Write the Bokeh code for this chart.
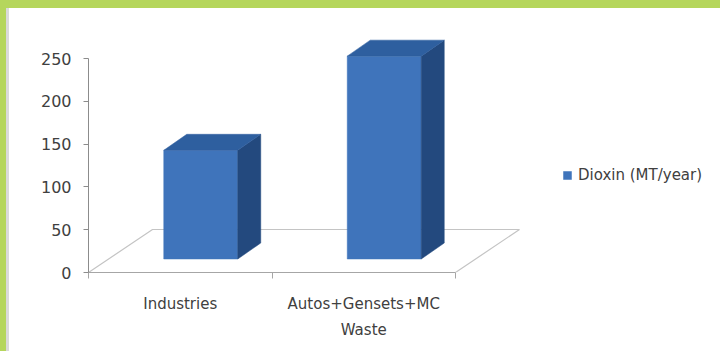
from bokeh.plotting import figure
from bokeh.models import Range1d, LinearAxis, FixedTicker, Legend, LegendItem, Div
from bokeh.layouts import column, row
from bokeh.embed import file_html
from bokeh.resources import INLINE

# ---- data ----
categories = ["Industries", "Autos+Gensets+MC\nWaste"]
values = [127, 237]
series_name = "Dioxin (MT/year)"
y_ticks = [0, 50, 100, 150, 200, 250]

# ---- layout constants (pixels) ----
W, H = 720, 351
BAND_TOP, BAND_LEFT, SHADE = 8, 6, 3
OX, OY = BAND_LEFT + SHADE, BAND_TOP        # figure origin in page
PW, PH = W - OX, H - OY
FL, FB, FT, FR = 88 - OX, 272 - OY, 28 - OY, 712 - OX   # frame edges in figure px
PX_X = 183.5      # pixels per category unit
PX_Y = 0.856      # pixels per value unit

# 3D styling (converted to data units)
FLOOR_DX = 64 / PX_X
FLOOR_DY = 43 / PX_Y
BAR_W = 74 / PX_X
BAR_DX = 23 / PX_X
BAR_DY = 16 / PX_Y

FRONT = "#3f74bb"
SIDE = "#23497e"
TOP = "#2e5f9f"
GREEN = "#b5d65c"
FONT = "DejaVu Sans"
TXT = "#404040"

p = figure(width=PW, height=PH, output_backend="svg", toolbar_location=None,
           x_range=Range1d(0, (FR - FL) / PX_X), y_range=Range1d(0, (FB - FT) / PX_Y),
           min_border_left=FL, min_border_right=PW - FR, min_border_top=FT,
           min_border_bottom=PH - FB, x_axis_type=None, y_axis_type=None)
p.grid.visible = False
p.outline_line_color = None
p.background_fill_color = "white"
p.border_fill_color = "white"

# floor (back part; front edge is the category axis)
ncat = len(categories)
p.line([0, FLOOR_DX, ncat + FLOOR_DX, ncat], [0, FLOOR_DY, FLOOR_DY, 0],
       line_color="#c4c4c4", line_width=1.2)

# bars
fx, fy, sx, sy, tx, ty = [], [], [], [], [], []
for i, v in enumerate(values):
    c = i + 0.5
    x0 = c + FLOOR_DX / 2 - BAR_DX / 2 - BAR_W / 2
    x1 = x0 + BAR_W
    y0 = FLOOR_DY / 2 - BAR_DY / 2
    y1 = y0 + v
    fx.append([x0, x1, x1, x0]); fy.append([y0, y0, y1, y1])
    sx.append([x1, x1 + BAR_DX, x1 + BAR_DX, x1]); sy.append([y0, y0 + BAR_DY, y1 + BAR_DY, y1])
    tx.append([x0, x1, x1 + BAR_DX, x0 + BAR_DX]); ty.append([y1, y1, y1 + BAR_DY, y1 + BAR_DY])

front = p.patches(fx, fy, fill_color=FRONT, line_color=FRONT, line_width=0.5)
p.patches(sx, sy, fill_color=SIDE, line_color=SIDE, line_width=0.5)
p.patches(tx, ty, fill_color=TOP, line_color=TOP, line_width=0.5)

# value axis
ya = LinearAxis(ticker=FixedTicker(ticks=y_ticks, minor_ticks=[]), bounds=(0, 250))
ya.axis_line_color = "#8c8c8c"
ya.major_tick_line_color = "#8c8c8c"
ya.major_tick_out = 5
ya.major_tick_in = 0
ya.major_label_standoff = 12
ya.major_label_text_font = FONT
ya.major_label_text_font_size = "16px"
ya.major_label_text_color = TXT
p.add_layout(ya, "left")

# category axis
xa = LinearAxis(ticker=FixedTicker(ticks=[i + 0.5 for i in range(ncat)],
                                   minor_ticks=list(range(ncat + 1))),
                bounds=(0, ncat))
xa.major_label_overrides = {i + 0.5: lab for i, lab in enumerate(categories)}
xa.axis_line_color = "#a6a6a6"
xa.major_tick_line_color = None
xa.major_tick_out = 0
xa.major_tick_in = 0
xa.minor_tick_line_color = "#a6a6a6"
xa.minor_tick_out = 6
xa.minor_tick_in = 0
xa.major_label_standoff = 16
xa.major_label_text_font = FONT
xa.major_label_text_font_size = "15px"
xa.major_label_text_color = TXT
xa.major_label_text_line_height = 1.45
p.add_layout(xa, "below")

# legend
legend = Legend(items=[LegendItem(label=series_name, renderers=[front])],
                location=(474, 88), padding=0, margin=0, spacing=0,
                glyph_width=10, glyph_height=10, label_standoff=6,
                border_line_color=None, background_fill_alpha=0,
                label_text_font=FONT, label_text_font_size="15px",
                label_text_color=TXT)
p.add_layout(legend)

# slide frame (green bands around the chart)
top_band = Div(width=W, height=BAND_TOP, margin=0,
               styles={"background-color": GREEN})
left_band = Div(width=BAND_LEFT, height=PH, margin=0,
                styles={"background-color": GREEN})
shade = Div(width=SHADE, height=PH, margin=0,
            styles={"background-color": "#dadada"})
layout = column(top_band, row(left_band, shade, p, spacing=0), spacing=0)

open("out.html", "w").write(file_html(layout, INLINE))
